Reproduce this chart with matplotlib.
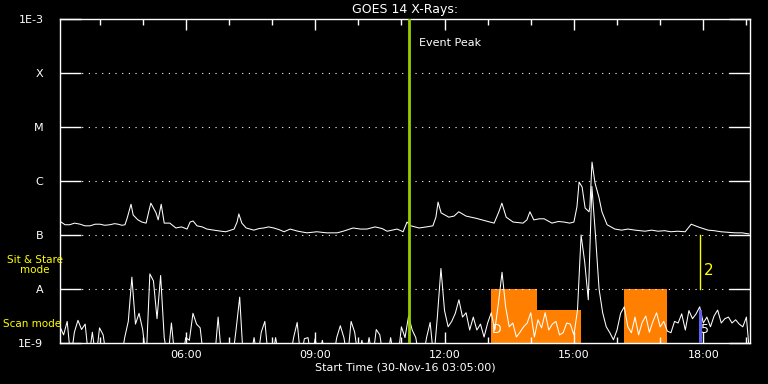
import numpy as np
import matplotlib
matplotlib.use("Agg")
import matplotlib.pyplot as plt
from matplotlib.ticker import FixedLocator, NullLocator

# time axis in decimal hours of 30-Nov-16, start 03:05
t_start = 3 + 5 / 60
t_end = t_start + 16

# long channel (1-8 A), log10 flux
long_t = [3.11, 3.20, 3.31, 3.42, 3.55, 3.66, 3.78, 3.90, 4.01, 4.12, 4.24, 4.35, 4.43, 4.52, 4.59,
          4.64, 4.73, 4.78, 4.89, 4.98, 5.08, 5.15, 5.19, 5.31, 5.36, 5.43, 5.50, 5.63, 5.77, 5.90,
          6.03, 6.10, 6.17, 6.26, 6.38, 6.49, 6.65, 6.82, 6.93, 7.12, 7.19, 7.23, 7.30, 7.40, 7.58,
          7.70, 7.81, 7.92, 8.04, 8.16, 8.28, 8.42, 8.60, 8.81, 9.04, 9.27, 9.51, 9.65, 9.88, 10.05,
          10.20, 10.39, 10.55, 10.67, 10.90, 11.04, 11.13, 11.22, 11.41, 11.58, 11.73, 11.80, 11.85,
          11.92, 12.10, 12.22, 12.33, 12.50, 12.73, 12.96, 13.15, 13.26, 13.33, 13.43, 13.59, 13.82,
          13.91, 13.98, 14.07, 14.20, 14.31, 14.49, 14.64, 14.77, 14.90, 15.00, 15.07, 15.12, 15.19,
          15.26, 15.35, 15.37, 15.42, 15.49, 15.58, 15.65, 15.77, 15.95, 16.11, 16.25, 16.42, 16.65,
          16.80, 16.95, 17.10, 17.25, 17.40, 17.58, 17.72, 17.88, 18.11, 18.25, 18.41, 18.58, 18.74,
          18.90, 19.06]
long_log = [-6.76, -6.81, -6.81, -6.78, -6.80, -6.83, -6.83, -6.80, -6.80, -6.82, -6.81, -6.79, -6.80, -6.82, -6.81,
            -6.69, -6.43, -6.63, -6.72, -6.76, -6.78, -6.54, -6.41, -6.59, -6.72, -6.43, -6.78, -6.78, -6.87, -6.85,
            -6.89, -6.76, -6.74, -6.83, -6.85, -6.89, -6.91, -6.93, -6.94, -6.89, -6.76, -6.61, -6.78, -6.87, -6.91,
            -6.88, -6.87, -6.85, -6.87, -6.90, -6.94, -6.89, -6.93, -6.96, -6.94, -6.96, -6.96, -6.93, -6.87, -6.89,
            -6.89, -6.85, -6.88, -6.93, -6.89, -6.94, -6.76, -6.83, -6.87, -6.85, -6.83, -6.67, -6.39,
            -6.59, -6.67, -6.65, -6.57, -6.65, -6.69, -6.74, -6.78, -6.57, -6.41, -6.67, -6.76, -6.78,
            -6.72, -6.57, -6.72, -6.70, -6.70, -6.78, -6.75, -6.76, -6.78, -6.76, -6.48, -6.02, -6.11,
            -6.50, -6.57, -6.48, -5.65, -6.04, -6.30, -6.57, -6.81, -6.89, -6.91, -6.89, -6.91, -6.93,
            -6.91, -6.93, -6.92, -6.94, -6.93, -6.94, -6.80, -6.85, -6.91, -6.92, -6.94, -6.95, -6.96,
            -6.96, -6.98]

# short channel (0.5-4 A), log10 flux every 5 min, -9.3 = below scale
short_log = [-8.70, -8.85, -8.60, -9.30, -8.80, -8.58, -8.75, -8.65, -9.30, -8.80, -9.30, -8.72, -8.85,
             -9.30, -9.30, -9.30, -9.30, -9.30, -8.90, -8.60, -7.78, -8.65, -8.45, -8.75, -9.30, -7.72,
             -7.85, -8.55, -7.75, -8.90, -9.30, -8.63, -9.30, -9.30, -9.30, -8.90, -8.95, -8.45, -8.65,
             -8.72, -9.30, -9.30, -9.30, -9.30, -8.52, -9.30, -9.30, -9.30, -9.30, -8.75, -8.15, -9.30,
             -9.30, -9.30, -8.90, -9.30, -8.80, -8.60, -9.30, -9.30, -8.90, -9.30, -9.30, -9.30, -9.30,
             -8.90, -8.62, -9.30, -8.92, -8.90, -9.30, -8.92, -9.30, -8.95, -9.30, -9.30, -9.30, -8.90,
             -8.68, -8.90, -9.30, -8.60, -8.80, -9.30, -8.95, -9.30, -8.90, -9.30, -8.75, -8.85, -9.30,
             -9.30, -8.90, -9.30, -9.30, -8.70, -8.90, -8.50, -8.76, -8.90, -9.30, -9.30, -8.90, -8.62,
             -9.30, -8.52, -7.62, -8.40, -8.70, -8.60, -8.45, -8.20, -8.52, -8.44, -8.76, -8.52, -8.76,
             -8.65, -8.89, -8.63, -8.44, -8.76, -8.26, -7.69, -8.33, -8.70, -8.63, -8.89, -8.80, -8.70,
             -8.63, -8.44, -8.89, -8.57, -8.72, -8.44, -8.76, -8.65, -8.60, -8.85, -8.81, -8.63, -8.65,
             -8.85, -8.39, -7.00, -7.50, -8.20, -6.10, -7.00, -8.00, -8.44, -8.70, -8.81, -8.94, -8.76,
             -8.45, -8.33, -8.70, -8.81, -8.52, -8.85, -8.62, -8.50, -8.80, -8.60, -8.44, -8.70, -8.60,
             -8.78, -8.81, -8.60, -8.63, -8.46, -8.76, -8.40, -8.55, -8.46, -8.33, -8.63, -8.52, -8.70,
             -8.50, -8.39, -8.63, -8.55, -8.52, -8.63, -8.57, -8.65, -8.70, -8.52, -9.30]
short_t = np.linspace(t_start, t_end, len(short_log))

# IRIS observing blocks: start, end, top level (log10)
block_start = [13.08, 14.15, 16.17]
block_end = [14.15, 15.17, 17.17]
block_top = [-8.0, -8.39, -8.0]

event_peak = 11.18
mark_t = 17.93

y_levels = [-9, -8, -7, -6, -5, -4, -3]
y_labels = ["1E-9", "A", "B", "C", "M", "X", "1E-3"]
x_major = [6, 9, 12, 15, 18]
x_labels = ["06:00", "09:00", "12:00", "15:00", "18:00"]

plt.rcParams['font.family'] = ['DejaVu Sans']
fig = plt.figure(figsize=(7.68, 3.84), dpi=100, facecolor='black')
ax = fig.add_axes([60 / 768, 1 - 343 / 384, 690 / 768, 324 / 384], facecolor='black')
ax.set_yscale('log')
ax.set_xlim(t_start, t_end)
ax.set_ylim(1e-9, 1e-3)

for s, e, top in zip(block_start, block_end, block_top):
    ax.fill_between([s, e], 1e-9, 10 ** top, color='#ff8000', lw=0, zorder=1)

for lv in y_levels[1:-1]:
    ax.axhline(10 ** lv, xmin=15 / 690, xmax=675 / 690, color='white', lw=0.8,
               ls=(0, (1, 5)), zorder=1)

ax.plot(long_t, 10 ** np.array(long_log), color='white', lw=0.75, zorder=3)
ax.plot(short_t, 10 ** np.array(short_log), color='white', lw=0.75, zorder=3)

ax.bar(mark_t, 10 ** -8.39 - 1e-9, bottom=1e-9, width=0.08, color='#6060ee', zorder=3.5)

ax.axvline(event_peak, color='#99cc00', lw=2, zorder=4)
ax.text(event_peak + 0.23, 10 ** -3.44, "Event Peak", color='white', fontsize=8, va='center')

ax.plot([mark_t, mark_t], [1e-8, 1e-7], color='#ffff00', lw=1, zorder=4)
ax.text(mark_t + 0.08, 10 ** -7.65, "2", color='#ffff00', fontsize=11, va='center')
ax.text(13.2, 10 ** -8.75, "D", color='white', fontsize=9, va='center', ha='center', zorder=4)
ax.text(mark_t + 0.1, 10 ** -8.75, "5", color='white', fontsize=9, va='center', ha='center', zorder=4)

ax.yaxis.set_major_locator(FixedLocator([10.0 ** v for v in y_levels]))
ax.yaxis.set_minor_locator(NullLocator())
ax.set_yticklabels(y_labels)
ax.set_xticks(x_major)
ax.set_xticklabels(x_labels)
ax.set_xticks(range(4, 20), minor=True)
ax.tick_params(axis='y', which='major', direction='in', length=15, width=1, color='white',
               labelcolor='white', labelsize=8, left=True, right=True, pad=12)
ax.tick_params(axis='x', which='major', direction='in', length=8, width=1, color='white',
               labelcolor='white', labelsize=8, top=True, bottom=True, pad=5)
ax.tick_params(axis='x', which='minor', direction='in', length=4, width=1, color='white',
               top=True, bottom=True)
for sp in ax.spines.values():
    sp.set_color('white')
    sp.set_linewidth(1)

ax.set_title("GOES 14 X-Rays:", color='white', fontsize=9, pad=4)
ax.set_xlabel("Start Time (30-Nov-16 03:05:00)", color='white', fontsize=8, labelpad=2)

fig.text(35 / 768, 1 - 265 / 384, "Sit & Stare\nmode", color='#ffff00', fontsize=7.5,
         ha='center', va='center', linespacing=1.1)
fig.text(3 / 768, 1 - 324 / 384, "Scan mode", color='#ffff00', fontsize=7.5,
         ha='left', va='center')

fig.savefig("out.png", dpi=100, facecolor='black')
